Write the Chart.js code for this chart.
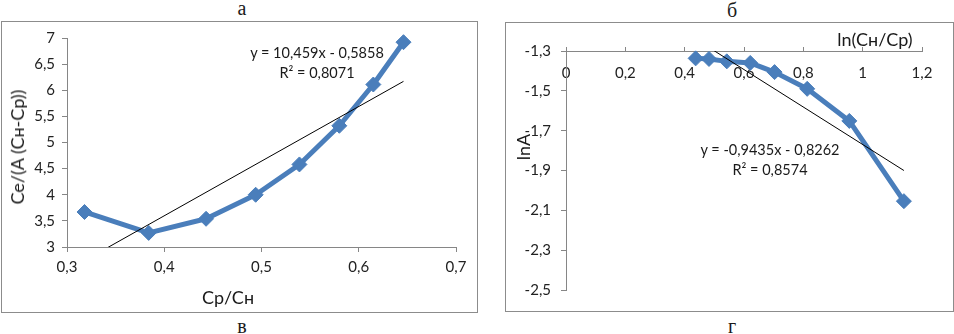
<!DOCTYPE html>
<html>
<head>
<meta charset="utf-8">
<script src="https://cdn.jsdelivr.net/npm/chart.js@4/dist/chart.umd.min.js"></script>
<style>
	body { margin: 0; background: #fff; width: 954px; height: 334px; position: relative; overflow: hidden; font-family: Lato, sans-serif; color: #1a1a1a; }
	.panel { position: absolute; border: 1px solid #8c8c8c; box-sizing: border-box; }
	canvas { position: absolute; }
	.t { position: absolute; white-space: nowrap; line-height: 1; transform: translate(-50%, -50%); }
	.rot { transform: translate(-50%, -50%) rotate(-90deg); }
	.letter { font-family: 'Liberation Serif', serif; font-size: 20px; }
	.axt { font-size: 18px; }
	.eq { font-size: 14.5px; }
</style>
</head>
<body>
<div class="panel" style="left:1px;top:21px;width:477px;height:292px"></div>
<div class="panel" style="left:505px;top:22px;width:449px;height:290px"></div>
<canvas id="chartLeft" width="474" height="289" style="left:2px;top:22px"></canvas>
<canvas id="chartRight" width="446" height="288" style="left:506px;top:23px"></canvas>

<div class="t letter" style="left:242px;top:8px">а</div>
<div class="t letter" style="left:732px;top:10px">б</div>
<div class="t letter" style="left:242px;top:326px">в</div>
<div class="t letter" style="left:732px;top:326px">г</div>

<div class="t axt rot" style="left:17px;top:147px">Ce/(A (Cн-Cp))</div>
<div class="t axt" style="left:228px;top:297px">Cp/Cн</div>
<div class="t eq" style="left:317px;top:53px">y = 10,459x - 0,5858</div>
<div class="t eq" style="left:317px;top:73px">R² = 0,8071</div>

<div class="t axt rot" style="left:523px;top:147px">lnA</div>
<div class="t axt" style="left:875px;top:39px">ln(Cн/Cp)</div>
<div class="t eq" style="left:770px;top:150px">y = -0,9435x - 0,8262</div>
<div class="t eq" style="left:770px;top:170px">R² = 0,8574</div>

<script>
'use strict'

// chart a: Ce/(A (Cн-Cp)) vs Cp/Cн
const leftX = [0.318, 0.384, 0.443, 0.494, 0.539, 0.580, 0.615, 0.646];
const leftY = [3.67, 3.27, 3.54, 4.00, 4.58, 5.32, 6.11, 6.92];
const leftTrendX = [0.318, 0.646];
const leftTrendY = [2.74, 6.17];
const leftXTicks = [0.3, 0.4, 0.5, 0.6, 0.7];
const leftYTicks = [3, 3.5, 4, 4.5, 5, 5.5, 6, 6.5, 7];

// chart б: lnA vs ln(Cн/Cp)
const rightX = [0.437, 0.482, 0.542, 0.621, 0.703, 0.813, 0.955, 1.139];
const rightY = [-1.337, -1.340, -1.352, -1.360, -1.406, -1.490, -1.651, -2.054];
const rightTrendX = [0.437, 1.139];
const rightTrendY = [-1.24, -1.90];
const rightXTicks = [0, 0.2, 0.4, 0.6, 0.8, 1, 1.2];
const rightYTicks = [-1.3, -1.5, -1.7, -1.9, -2.1, -2.3, -2.5];

const blue = '#4a7ebb';
const axisGray = '#868686';
const tickFont = {family: 'Lato', size: 15};

const commaLabel = (v) => String(v).replace('.', ',');
const toPoints = (xs, ys) => xs.map((x, i) => ({x: x, y: ys[i]}));

const trendSet = (xs, ys) => ({
	data: toPoints(xs, ys),
	showLine: true,
	borderColor: '#000',
	borderWidth: 1,
	pointRadius: 0,
});

const seriesSet = (xs, ys) => ({
	data: toPoints(xs, ys),
	showLine: true,
	borderColor: blue,
	backgroundColor: blue,
	borderWidth: 5,
	borderJoinStyle: 'round',
	pointStyle: 'rectRot',
	pointRadius: 7.5,
	pointBorderWidth: 1,
	pointBorderColor: blue,
	clip: 12,
});

const baseOptions = {
	responsive: false,
	animation: false,
	events: [],
	plugins: {
		legend: {display: false},
		tooltip: {enabled: false},
	},
};

let chartLeft = new Chart(document.getElementById('chartLeft'), {
	type: 'scatter',
	data: {
		datasets: [trendSet(leftTrendX, leftTrendY), seriesSet(leftX, leftY)],
	},
	options: {
		...baseOptions,
		layout: {padding: {left: 0, top: 11, right: 20, bottom: 0}},
		scales: {
			x: {
				type: 'linear',
				min: 0.3,
				max: 0.7,
				afterBuildTicks: (s) => { s.ticks = leftXTicks.map(v => ({value: v})); },
				afterFit: (s) => { s.height = 64; },
				grid: {drawOnChartArea: false, tickLength: 5, color: axisGray},
				border: {color: axisGray},
				ticks: {callback: commaLabel, padding: 6, color: '#222', font: tickFont, maxRotation: 0, autoSkip: false},
			},
			y: {
				type: 'linear',
				min: 3,
				max: 7,
				afterBuildTicks: (s) => { s.ticks = leftYTicks.map(v => ({value: v})); },
				afterFit: (s) => { s.width = 65; },
				grid: {drawOnChartArea: false, tickLength: 5, color: axisGray},
				border: {color: axisGray},
				ticks: {callback: commaLabel, padding: 7, color: '#222', font: tickFont, autoSkip: false},
			},
		},
	},
});

let chartRight = new Chart(document.getElementById('chartRight'), {
	type: 'scatter',
	data: {
		datasets: [trendSet(rightTrendX, rightTrendY), seriesSet(rightX, rightY)],
	},
	options: {
		...baseOptions,
		layout: {padding: {left: 0, top: 28, right: 30, bottom: 21}},
		scales: {
			x: {
				type: 'linear',
				position: {y: -1.3},
				min: 0,
				max: 1.2,
				afterBuildTicks: (s) => { s.ticks = rightXTicks.map(v => ({value: v})); },
				afterFit: (s) => { s.height = 0; },
				grid: {drawOnChartArea: false, tickLength: -5, color: axisGray},
				border: {color: axisGray},
				ticks: {callback: commaLabel, padding: 18, color: '#222', font: tickFont, maxRotation: 0, autoSkip: false},
			},
			y: {
				type: 'linear',
				min: -2.5,
				max: -1.3,
				afterBuildTicks: (s) => { s.ticks = rightYTicks.map(v => ({value: v})); },
				afterFit: (s) => { s.width = 60; },
				grid: {drawOnChartArea: false, tickLength: 5, color: axisGray},
				border: {color: axisGray},
				ticks: {callback: commaLabel, padding: 10, color: '#222', font: tickFont, autoSkip: false},
			},
		},
	},
});
</script>
</body>
</html>
